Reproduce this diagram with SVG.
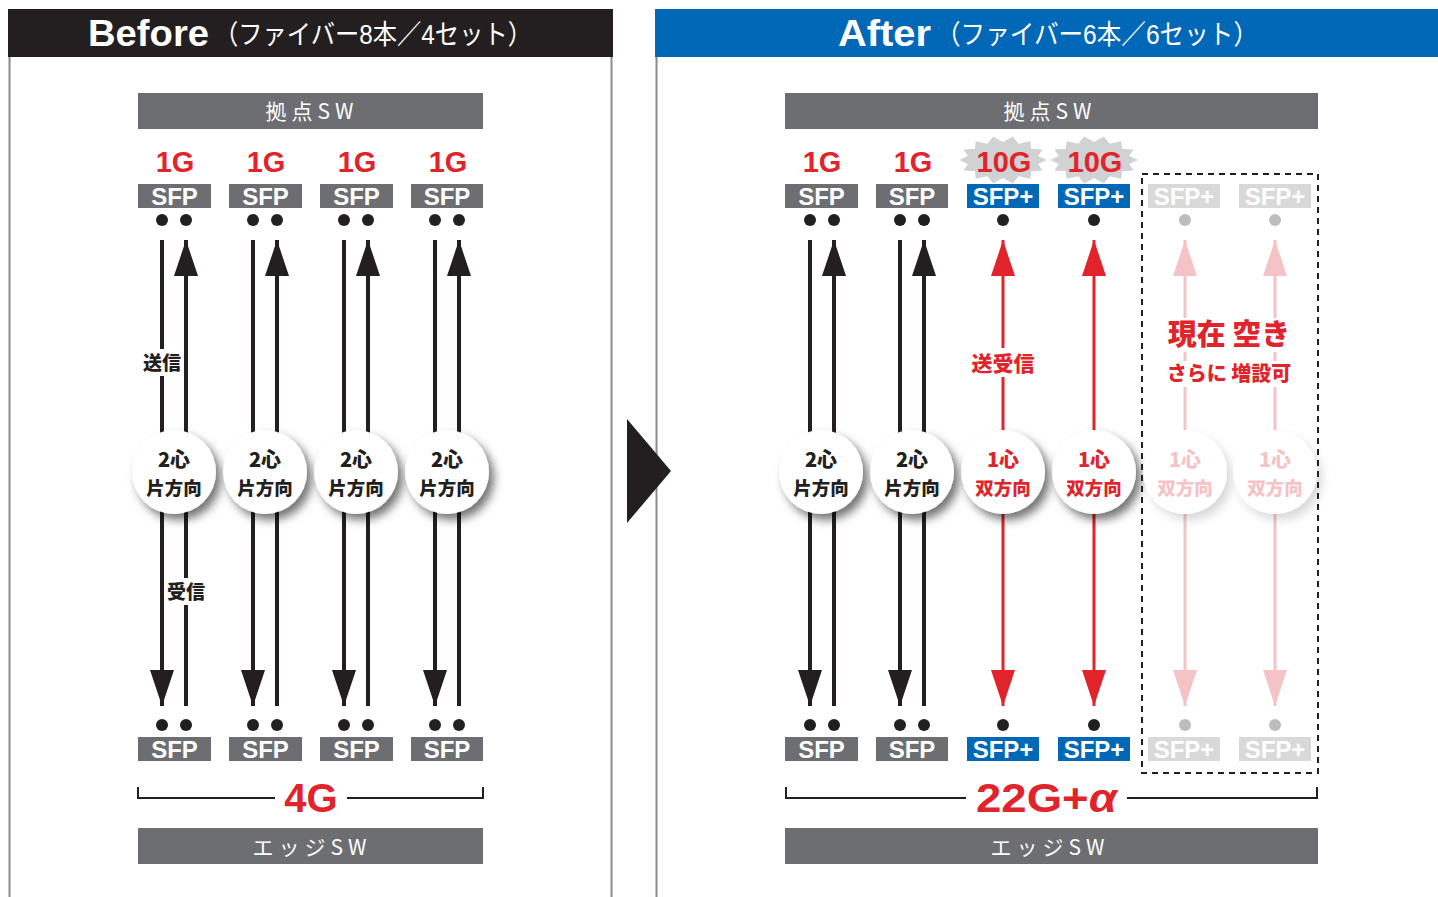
<svg xmlns="http://www.w3.org/2000/svg" width="1438" height="897" viewBox="0 0 1438 897">
<style>
.hdr{font-family:"Liberation Sans","Noto Sans CJK JP",sans-serif;fill:#fff}
.bar{fill:#6d6e71}
.bartxt{font-family:"Noto Sans CJK JP","Liberation Sans",sans-serif;font-size:21px;fill:#fff;text-anchor:middle;letter-spacing:5px}
.gb{font-family:"Liberation Sans","Noto Sans CJK JP",sans-serif;font-weight:700;font-size:29px;fill:#e1242b;text-anchor:middle}
.sfp{fill:#6d6e71}
.sfpp{fill:#0068b6}
.sfpg{fill:#d9d9da}
.st{font-family:"Liberation Sans",sans-serif;font-weight:700;font-size:24px;fill:#fff;text-anchor:middle}
.dot{fill:#231f20}
.dotg{fill:#bdbdbd}
.cir{fill:#fff;filter:url(#sh)}
.cirp{fill:#fff;filter:url(#shp)}
.ct{font-family:"Noto Sans CJK JP","Liberation Sans",sans-serif;font-weight:900;font-size:20px;text-anchor:middle;fill:#231f20}
.ct2{font-size:18.5px}
.ctr{fill:#e1242b}
.ctp{fill:#f5c3c6}
.lb{stroke:#231f20;stroke-width:4;fill:none}
.lr{stroke:#e1242b;stroke-width:3;fill:none}
.lp{stroke:#f5c3c6;stroke-width:3;fill:none}
.lbl{font-family:"Noto Sans CJK JP",sans-serif;font-weight:900;font-size:19px;text-anchor:middle;fill:#231f20}
.big{font-family:"Liberation Sans",sans-serif;font-weight:700;font-size:40px;fill:#e1242b;text-anchor:middle}
.brk{stroke:#231f20;stroke-width:2;fill:none}
</style>
<defs>
<filter id="sh" x="-40%" y="-40%" width="190%" height="190%"><feDropShadow dx="5" dy="6" stdDeviation="5" flood-color="#000" flood-opacity="0.55"/></filter>
<filter id="shp" x="-40%" y="-40%" width="190%" height="190%"><feDropShadow dx="5" dy="6" stdDeviation="5" flood-color="#000" flood-opacity="0.15"/></filter>
<marker id="ab" markerUnits="userSpaceOnUse" markerWidth="36" markerHeight="24" viewBox="0 0 36 24" refX="36" refY="12" orient="auto-start-reverse"><path d="M0,0 L36,12 L0,24 z" fill="#231f20"/></marker>
<marker id="ar" markerUnits="userSpaceOnUse" markerWidth="36" markerHeight="24" viewBox="0 0 36 24" refX="36" refY="12" orient="auto-start-reverse"><path d="M0,0 L36,12 L0,24 z" fill="#e1242b"/></marker>
<marker id="ap" markerUnits="userSpaceOnUse" markerWidth="36" markerHeight="24" viewBox="0 0 36 24" refX="36" refY="12" orient="auto-start-reverse"><path d="M0,0 L36,12 L0,24 z" fill="#f5c3c6"/></marker>
<polygon id="burst" fill="#d1d2d4" points="44,0 35.1,4 39.6,10.4 28.1,11.2 27.4,18.8 15.6,16.2 9.8,23.4 0,18 -9.8,23.4 -15.6,16.2 -27.4,18.8 -28.1,11.2 -39.6,10.4 -35.1,4 -44,0 -35.1,-4 -39.6,-10.4 -28.1,-11.2 -27.4,-18.8 -15.6,-16.2 -9.8,-23.4 0,-18 9.8,-23.4 15.6,-16.2 27.4,-18.8 28.1,-11.2 39.6,-10.4 35.1,-4"/>
</defs>
<rect width="1438" height="897" fill="#fff"/>

<!-- Panels -->
<g id="panel-before">
<rect x="8" y="9" width="605" height="48" fill="#231f20"/>
<line x1="9.5" y1="57" x2="9.5" y2="897" stroke="#8a8a8c" stroke-width="2"/>
<line x1="611.5" y1="57" x2="611.5" y2="897" stroke="#8a8a8c" stroke-width="2"/>
<text class="hdr" x="88" y="46" font-size="36" font-weight="700" textLength="121" lengthAdjust="spacingAndGlyphs">Before</text>
<text class="hdr" x="214" y="44" font-size="27" textLength="318" lengthAdjust="spacingAndGlyphs">（ファイバー8本／4セット）</text>
</g>
<g id="panel-after">
<rect x="655" y="9" width="783" height="48" fill="#0068b6"/>
<line x1="656.5" y1="57" x2="656.5" y2="897" stroke="#8a8a8c" stroke-width="2"/>
<text class="hdr" x="838" y="46" font-size="36" font-weight="700" textLength="93" lengthAdjust="spacingAndGlyphs">After</text>
<text class="hdr" x="936" y="44" font-size="27" textLength="322" lengthAdjust="spacingAndGlyphs">（ファイバー6本／6セット）</text>
</g>
<g id="transition-arrow"><polygon points="627,419 671,471 627,523" fill="#231f20"/></g>

<!-- Switch bars -->
<g id="before-hub-sw"><rect class="bar" x="138" y="93" width="345" height="36"/><text class="bartxt" x="312" y="119">拠点SW</text></g>
<g id="before-edge-sw"><rect class="bar" x="138" y="828" width="345" height="36"/><text class="bartxt" x="312" y="855">エッジSW</text></g>
<g id="after-hub-sw"><rect class="bar" x="785" y="93" width="533" height="36"/><text class="bartxt" x="1050" y="119">拠点SW</text></g>
<g id="after-edge-sw"><rect class="bar" x="785" y="828" width="533" height="36"/><text class="bartxt" x="1050" y="855">エッジSW</text></g>

<!-- Connectors -->
<g id="connectors">
<line class="lb" x1="162" y1="240" x2="162" y2="706" marker-end="url(#ab)"/>
<line class="lb" x1="186" y1="706" x2="186" y2="240" marker-end="url(#ab)"/>
<line class="lb" x1="253" y1="240" x2="253" y2="706" marker-end="url(#ab)"/>
<line class="lb" x1="277" y1="706" x2="277" y2="240" marker-end="url(#ab)"/>
<line class="lb" x1="344" y1="240" x2="344" y2="706" marker-end="url(#ab)"/>
<line class="lb" x1="368" y1="706" x2="368" y2="240" marker-end="url(#ab)"/>
<line class="lb" x1="435" y1="240" x2="435" y2="706" marker-end="url(#ab)"/>
<line class="lb" x1="459" y1="706" x2="459" y2="240" marker-end="url(#ab)"/>
<line class="lb" x1="810" y1="240" x2="810" y2="706" marker-end="url(#ab)"/>
<line class="lb" x1="834" y1="706" x2="834" y2="240" marker-end="url(#ab)"/>
<line class="lb" x1="900" y1="240" x2="900" y2="706" marker-end="url(#ab)"/>
<line class="lb" x1="924" y1="706" x2="924" y2="240" marker-end="url(#ab)"/>
<line class="lr" x1="1003" y1="240" x2="1003" y2="706" marker-start="url(#ar)" marker-end="url(#ar)"/>
<line class="lr" x1="1094" y1="240" x2="1094" y2="706" marker-start="url(#ar)" marker-end="url(#ar)"/>
<line class="lp" x1="1185" y1="240" x2="1185" y2="706" marker-start="url(#ap)" marker-end="url(#ap)"/>
<line class="lp" x1="1275" y1="240" x2="1275" y2="706" marker-start="url(#ap)" marker-end="url(#ap)"/>
<rect x="145" y="349" width="34" height="27" fill="#fff"/>
<text class="lbl" x="162" y="370">送信</text>
<rect x="169" y="578" width="34" height="27" fill="#fff"/>
<text class="lbl" x="186" y="599">受信</text>
<rect x="968" y="348" width="70" height="29" fill="#fff"/>
<text class="lbl" x="1003" y="371" style="fill:#e1242b;font-size:21px">送受信</text>
</g>

<!-- Top labels -->
<g id="before-top">
<text class="gb" x="175" y="172">1G</text><text class="gb" x="266" y="172">1G</text><text class="gb" x="357" y="172">1G</text><text class="gb" x="448" y="172">1G</text>
</g>
<g id="after-top">
<text class="gb" x="822" y="172">1G</text><text class="gb" x="913" y="172">1G</text>
<use href="#burst" x="1003" y="160"/><use href="#burst" x="1094" y="160"/>
<text class="gb" x="1004" y="172">10G</text><text class="gb" x="1095" y="172">10G</text>
</g>

<!-- Before columns -->
<g id="b1"><rect class="sfp" x="138" y="184" width="73" height="24"/><text class="st" x="174.5" y="205">SFP</text><circle class="dot" cx="162" cy="220" r="6"/><circle class="dot" cx="186" cy="220" r="6"/>
<circle class="cir" cx="174" cy="472" r="42"/><text class="ct" x="174" y="467">2心</text><text class="ct ct2" x="174" y="495">片方向</text>
<circle class="dot" cx="162" cy="725" r="6"/><circle class="dot" cx="186" cy="725" r="6"/><rect class="sfp" x="138" y="737" width="73" height="24"/><text class="st" x="174.5" y="758">SFP</text></g>
<g id="b2"><rect class="sfp" x="229" y="184" width="73" height="24"/><text class="st" x="265.5" y="205">SFP</text><circle class="dot" cx="253" cy="220" r="6"/><circle class="dot" cx="277" cy="220" r="6"/>
<circle class="cir" cx="265" cy="472" r="42"/><text class="ct" x="265" y="467">2心</text><text class="ct ct2" x="265" y="495">片方向</text>
<circle class="dot" cx="253" cy="725" r="6"/><circle class="dot" cx="277" cy="725" r="6"/><rect class="sfp" x="229" y="737" width="73" height="24"/><text class="st" x="265.5" y="758">SFP</text></g>
<g id="b3"><rect class="sfp" x="320" y="184" width="73" height="24"/><text class="st" x="356.5" y="205">SFP</text><circle class="dot" cx="344" cy="220" r="6"/><circle class="dot" cx="368" cy="220" r="6"/>
<circle class="cir" cx="356" cy="472" r="42"/><text class="ct" x="356" y="467">2心</text><text class="ct ct2" x="356" y="495">片方向</text>
<circle class="dot" cx="344" cy="725" r="6"/><circle class="dot" cx="368" cy="725" r="6"/><rect class="sfp" x="320" y="737" width="73" height="24"/><text class="st" x="356.5" y="758">SFP</text></g>
<g id="b4"><rect class="sfp" x="411" y="184" width="72" height="24"/><text class="st" x="447" y="205">SFP</text><circle class="dot" cx="435" cy="220" r="6"/><circle class="dot" cx="459" cy="220" r="6"/>
<circle class="cir" cx="447" cy="472" r="42"/><text class="ct" x="447" y="467">2心</text><text class="ct ct2" x="447" y="495">片方向</text>
<circle class="dot" cx="435" cy="725" r="6"/><circle class="dot" cx="459" cy="725" r="6"/><rect class="sfp" x="411" y="737" width="72" height="24"/><text class="st" x="447" y="758">SFP</text></g>

<!-- After columns -->
<g id="a1"><rect class="sfp" x="785" y="184" width="73" height="24"/><text class="st" x="821.5" y="205">SFP</text><circle class="dot" cx="810" cy="220" r="6"/><circle class="dot" cx="834" cy="220" r="6"/>
<circle class="cir" cx="821" cy="472" r="42"/><text class="ct" x="821" y="467">2心</text><text class="ct ct2" x="821" y="495">片方向</text>
<circle class="dot" cx="810" cy="725" r="6"/><circle class="dot" cx="834" cy="725" r="6"/><rect class="sfp" x="785" y="737" width="73" height="24"/><text class="st" x="821.5" y="758">SFP</text></g>
<g id="a2"><rect class="sfp" x="876" y="184" width="72" height="24"/><text class="st" x="912" y="205">SFP</text><circle class="dot" cx="900" cy="220" r="6"/><circle class="dot" cx="924" cy="220" r="6"/>
<circle class="cir" cx="912" cy="472" r="42"/><text class="ct" x="912" y="467">2心</text><text class="ct ct2" x="912" y="495">片方向</text>
<circle class="dot" cx="900" cy="725" r="6"/><circle class="dot" cx="924" cy="725" r="6"/><rect class="sfp" x="876" y="737" width="72" height="24"/><text class="st" x="912" y="758">SFP</text></g>
<g id="a3"><rect class="sfpp" x="967" y="184" width="72" height="24"/><text class="st" x="1003" y="205">SFP+</text><circle class="dot" cx="1003" cy="220" r="6"/>
<circle class="cir" cx="1003" cy="472" r="42"/><text class="ct ctr" x="1003" y="467">1心</text><text class="ct ct2 ctr" x="1003" y="495">双方向</text>
<circle class="dot" cx="1003" cy="725" r="6"/><rect class="sfpp" x="967" y="737" width="72" height="24"/><text class="st" x="1003" y="758">SFP+</text></g>
<g id="a4"><rect class="sfpp" x="1058" y="184" width="72" height="24"/><text class="st" x="1094" y="205">SFP+</text><circle class="dot" cx="1094" cy="220" r="6"/>
<circle class="cir" cx="1094" cy="472" r="42"/><text class="ct ctr" x="1094" y="467">1心</text><text class="ct ct2 ctr" x="1094" y="495">双方向</text>
<circle class="dot" cx="1094" cy="725" r="6"/><rect class="sfpp" x="1058" y="737" width="72" height="24"/><text class="st" x="1094" y="758">SFP+</text></g>
<g id="a5"><rect class="sfpg" x="1148" y="184" width="72" height="24"/><text class="st" x="1184" y="205">SFP+</text><circle class="dotg" cx="1185" cy="220" r="6"/>
<circle class="cirp" cx="1185" cy="472" r="42"/><text class="ct ctp" x="1185" y="467">1心</text><text class="ct ct2 ctp" x="1185" y="495">双方向</text>
<circle class="dotg" cx="1185" cy="725" r="6"/><rect class="sfpg" x="1148" y="737" width="72" height="24"/><text class="st" x="1184" y="758">SFP+</text></g>
<g id="a6"><rect class="sfpg" x="1239" y="184" width="72" height="24"/><text class="st" x="1275" y="205">SFP+</text><circle class="dotg" cx="1275" cy="220" r="6"/>
<circle class="cirp" cx="1275" cy="472" r="42"/><text class="ct ctp" x="1275" y="467">1心</text><text class="ct ct2 ctp" x="1275" y="495">双方向</text>
<circle class="dotg" cx="1275" cy="725" r="6"/><rect class="sfpg" x="1239" y="737" width="72" height="24"/><text class="st" x="1275" y="758">SFP+</text></g>

<!-- Spare box -->
<g id="spare-box">
<rect x="1142" y="174" width="176" height="599" fill="none" stroke="#231f20" stroke-width="2" stroke-dasharray="6 5"/>
<rect x="1163" y="318" width="134" height="34" fill="#fff"/>
<rect x="1163" y="361" width="134" height="26" fill="#fff"/>
<text x="1229" y="345" font-family="Noto Sans CJK JP,sans-serif" font-weight="900" font-size="29" fill="#e1242b" text-anchor="middle">現在 空き</text>
<text x="1229" y="381" font-family="Noto Sans CJK JP,sans-serif" font-weight="900" font-size="20" fill="#e1242b" text-anchor="middle">さらに 増設可</text>
</g>

<!-- Totals -->
<g id="before-total">
<polyline class="brk" points="138,787 138,798 275,798"/><polyline class="brk" points="347,798 483,798 483,787"/>
<text class="big" x="311" y="812">4G</text>
</g>
<g id="after-total">
<polyline class="brk" points="786,787 786,798 966,798"/><polyline class="brk" points="1127,798 1317,798 1317,787"/>
<text class="big" x="976" y="812" style="text-anchor:start" textLength="141" lengthAdjust="spacingAndGlyphs">22G+<tspan font-style="italic">α</tspan></text>
</g>
</svg>
